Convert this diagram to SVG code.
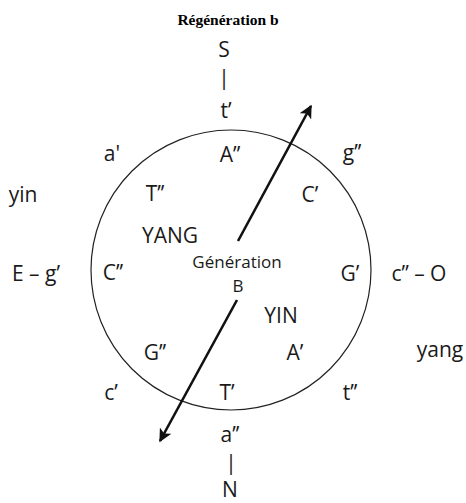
<svg xmlns="http://www.w3.org/2000/svg" width="466" height="503" viewBox="0 0 466 503">
<defs>
<style>
.t{font-family:"Open Sans","Liberation Sans",sans-serif;font-size:21px;fill:#1a1a1a;text-anchor:middle}
.s{font-size:17px}
.title{font-family:"Liberation Serif","Times New Roman",serif;font-size:15.5px;font-weight:bold;fill:#000;text-anchor:middle}
.ring{fill:none;stroke:#222;stroke-width:1.2}
.arr{fill:none;stroke:#111;stroke-width:2.6;marker-end:url(#ah)}
</style>
<marker id="ah" viewBox="0 0 10 10" refX="9" refY="5" markerWidth="5.5" markerHeight="5" orient="auto" markerUnits="strokeWidth">
<path d="M0,0 L10,5 L0,10 L2.5,5 Z" fill="#111"/>
</marker>
</defs>
<rect width="466" height="503" fill="#fff"/>
<text class="title" x="228" y="25">Régénération b</text>
<g id="cycle">
<circle class="ring" cx="231" cy="270" r="140"/>
</g>
<g id="connectors">
<line class="arr" x1="238" y1="241" x2="311" y2="106"/>
<line class="arr" x1="237" y1="300" x2="160" y2="441"/>
</g>
<g id="top-axis">
<text class="t" x="224" y="57">S</text>
<text class="t" x="224" y="85">|</text>
<text class="t" x="226" y="118">t’</text>
</g>
<g id="bottom-axis">
<text class="t" x="230" y="442">a’’</text>
<text class="t" x="231" y="470">|</text>
<text class="t" x="230" y="497">N</text>
</g>
<g id="outer-labels">
<text class="t" x="112" y="161">a'</text>
<text class="t" x="352" y="160">g’’</text>
<text class="t" x="23" y="202">yin</text>
<text class="t" x="36" y="281">E – g’</text>
<text class="t" x="419" y="281">c’’ – O</text>
<text class="t" x="440" y="357">yang</text>
<text class="t" x="111" y="400">c’</text>
<text class="t" x="350" y="400">t’’</text>
</g>
<g id="inner-labels">
<text class="t" x="230" y="162">A’’</text>
<text class="t" x="155" y="201">T’’</text>
<text class="t" x="310" y="202">C’</text>
<text class="t" x="170" y="243">YANG</text>
<text class="t" x="113" y="280">C’’</text>
<text class="t" x="350" y="281">G’</text>
<text class="t" x="281" y="323">YIN</text>
<text class="t" x="155" y="360">G’’</text>
<text class="t" x="295" y="360">A’</text>
<text class="t" x="227" y="400">T’</text>
</g>
<g id="center">
<text class="t s" x="237" y="268">Génération</text>
<text class="t s" x="238" y="292">B</text>
</g>
</svg>
